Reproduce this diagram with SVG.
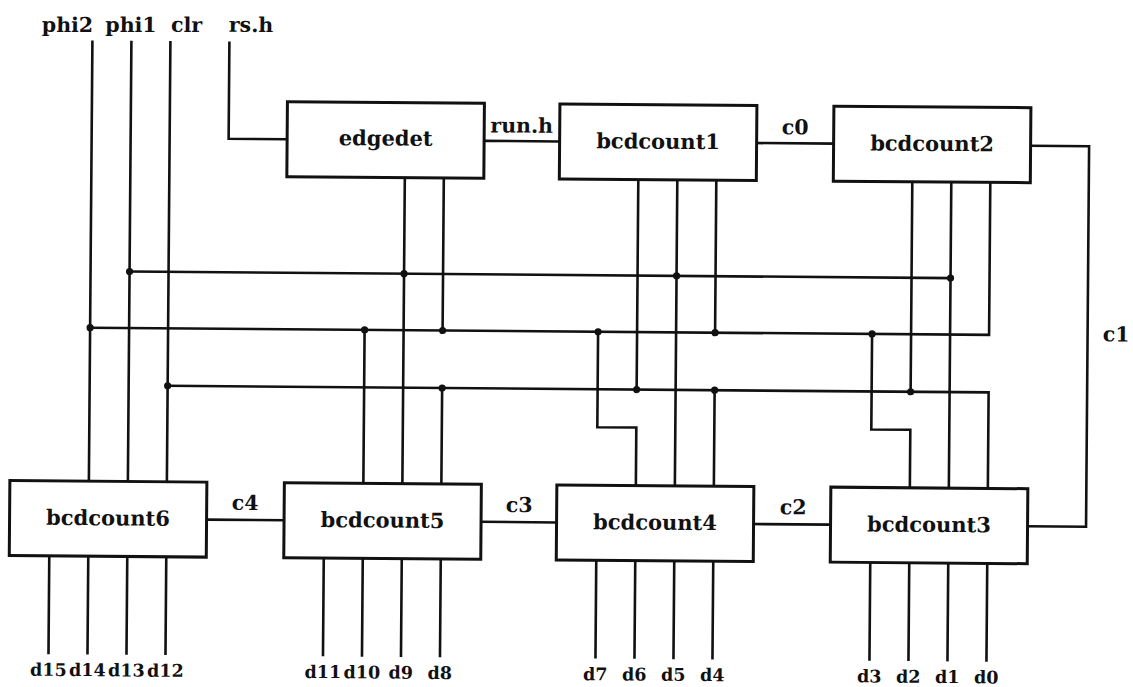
<svg xmlns="http://www.w3.org/2000/svg" width="1133" height="687" viewBox="0 0 1133 687">
<style>
.w{stroke:#111;stroke-width:2.6;fill:none;stroke-linecap:square;stroke-linejoin:miter}
.box{fill:#fff;stroke:#111;stroke-width:3}
.dot{fill:#111}
text{font-family:"DejaVu Serif","Liberation Serif",serif;font-weight:bold;fill:#111;text-anchor:middle}
.n{font-size:21px}
.e{font-size:20.5px}
.d{font-size:17.5px}
</style>
<rect x="0" y="0" width="1133" height="687" fill="#fff"/>
<g transform="rotate(0.46 566 343)">
<g id="connectors">
<g class="w">
<path d="M90 45.5V485M129 45.5V485M168 45.5V485"/>
<path d="M227 45.5V141.5H285.5"/>
<path d="M482.5 141.5H558M755 141.5H832"/>
<path d="M1029 142H1087.5V522.5H1029"/>
<path d="M755 522.5H832M482.5 522.5H558M208 522.5H285.5"/>
<path d="M129 275H950"/>
<path d="M90 331.5H989V179"/>
<path d="M168 389H989V485"/>
<path d="M403.5 179V485M442.5 179V331.5M442.5 389V485M364.5 331.5V485"/>
<path d="M637 179V389M676 179V485M715 179V331.5M715 389V485M598 331.5V427H637V485"/>
<path d="M911 179V389M950 179V485M872 331.5V427H911V485"/>
<path d="M51 560V657M90 560V657M129 560V657M168 560V657"/>
<path d="M325.5 560V657M364.5 560V657M403.5 560V657M442.5 560V657"/>
<path d="M598 560V657M637 560V657M676 560V657M715 560V657"/>
<path d="M872 560V657M911 560V657M950 560V657M989 560V657"/>
</g>
<g class="dot">
<circle cx="129" cy="275" r="3.6"/><circle cx="403.5" cy="275" r="3.6"/><circle cx="676" cy="275" r="3.6"/><circle cx="950" cy="275" r="3.6"/>
<circle cx="90" cy="331.5" r="3.6"/><circle cx="364.5" cy="331.5" r="3.6"/><circle cx="442.5" cy="331.5" r="3.6"/><circle cx="598" cy="331.5" r="3.6"/><circle cx="715" cy="331.5" r="3.6"/><circle cx="872" cy="331.5" r="3.6"/>
<circle cx="168" cy="389" r="3.6"/><circle cx="442.5" cy="389" r="3.6"/><circle cx="637" cy="389" r="3.6"/><circle cx="715" cy="389" r="3.6"/><circle cx="911" cy="389" r="3.6"/>
</g>
<g class="e">
<text x="65" y="36">phi2</text>
<text x="128.5" y="35.5">phi1</text>
<text x="184" y="35">clr</text>
<text x="248.5" y="34.5">rs.h</text>
<text x="520" y="133">run.h</text>
<text x="793.5" y="132.5">c0</text>
<text x="1116" y="337">c1</text>
<text x="794.5" y="512.5">c2</text>
<text x="520.5" y="512.5">c3</text>
<text x="246.5" y="512.5">c4</text>
</g>
<g class="d">
<text x="51" y="680">d15</text><text x="90" y="680">d14</text><text x="129" y="680">d13</text><text x="168" y="680">d12</text>
<text x="325.5" y="680">d11</text><text x="364.5" y="680">d10</text><text x="403.5" y="680">d9</text><text x="442.5" y="680">d8</text>
<text x="598" y="680">d7</text><text x="637" y="680">d6</text><text x="676" y="680">d5</text><text x="715" y="680">d4</text>
<text x="872" y="680">d3</text><text x="911" y="680">d2</text><text x="950" y="680">d1</text><text x="989" y="680">d0</text>
</g>
</g>
<g id="edgedet"><rect class="box" x="285.5" y="104" width="197" height="75"/><text class="n" x="384" y="147">edgedet</text></g>
<g id="bcdcount1"><rect class="box" x="558" y="104" width="197" height="75"/><text class="n" x="656.5" y="148">bcdcount1</text></g>
<g id="bcdcount2"><rect class="box" x="832" y="104" width="197" height="75"/><text class="n" x="930.5" y="148">bcdcount2</text></g>
<g id="bcdcount6"><rect class="box" x="11" y="485" width="197" height="75"/><text class="n" x="109.5" y="529">bcdcount6</text></g>
<g id="bcdcount5"><rect class="box" x="285.5" y="485" width="197" height="75"/><text class="n" x="384" y="529">bcdcount5</text></g>
<g id="bcdcount4"><rect class="box" x="558" y="485" width="197" height="75"/><text class="n" x="656.5" y="529">bcdcount4</text></g>
<g id="bcdcount3"><rect class="box" x="832" y="485" width="197" height="75"/><text class="n" x="930.5" y="529">bcdcount3</text></g>
</g>
</svg>
